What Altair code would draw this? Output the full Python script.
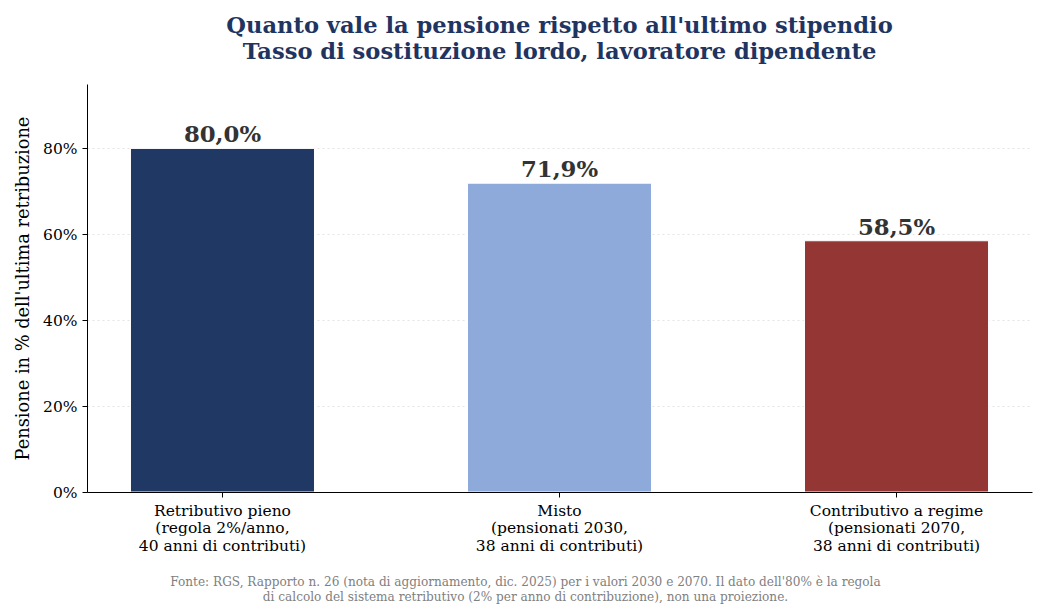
import altair as alt
import pandas as pd

categories = [
    "Retributivo pieno\n(regola 2%/anno,\n40 anni di contributi)",
    "Misto\n(pensionati 2030,\n38 anni di contributi)",
    "Contributivo a regime\n(pensionati 2070,\n38 anni di contributi)",
]
values = [80.0, 71.9, 58.5]
value_labels = ["80,0%", "71,9%", "58,5%"]
colors = ["#203864", "#8eaadb", "#943634"]

df = pd.DataFrame({"cat": categories, "val": values, "lab": value_labels, "col": colors})

FONT = "DejaVu Serif"
footer = [
    "Fonte: RGS, Rapporto n. 26 (nota di aggiornamento, dic. 2025) per i valori 2030 e 2070. Il dato dell'80% è la regola",
    "di calcolo del sistema retributivo (2% per anno di contribuzione), non una proiezione.",
]

x_enc = alt.X(
    "cat:N",
    sort=categories,
    scale=alt.Scale(paddingInner=0.454, paddingOuter=0.129),
    axis=alt.Axis(
        labelExpr="split(datum.label, '\\n')",
        labelAngle=0,
        labelFont=FONT,
        labelFontSize=15.5,
        labelColor="black",
        labelLineHeight=17.5,
        labelPadding=6,
        tickSize=5,
        tickColor="black",
        domainColor="black",
        title=footer,
        titleFont=FONT,
        titleFontSize=12.1,
        titleFontWeight="normal",
        titleColor="#808080",
        titleLineHeight=14.5,
        titleX=438,
        titlePadding=22,
        grid=False,
        zindex=1,
    ),
)

y_enc = alt.Y(
    "val:Q",
    scale=alt.Scale(domain=[0, 95], nice=False),
    axis=alt.Axis(
        values=[0, 20, 40, 60, 80],
        labelExpr="datum.value + '%'",
        labelFont=FONT,
        labelFontSize=15.5,
        labelColor="black",
        labelPadding=5,
        tickSize=5,
        tickColor="black",
        domainColor="black",
        title="Pensione in % dell'ultima retribuzione",
        titleFont=FONT,
        titleFontSize=17.8,
        titleFontWeight="normal",
        titleColor="black",
        titlePadding=10,
        grid=True,
        gridColor="#dddddd",
        gridDash=[2, 3],
        gridWidth=0.8,
    ),
)

bars = alt.Chart(df).mark_bar(stroke="white", strokeWidth=1).encode(
    x=x_enc,
    y=y_enc,
    color=alt.Color("col:N", scale=None, legend=None),
)

texts = alt.Chart(df).mark_text(
    font=FONT, fontSize=22.8, fontWeight="bold", color="#333333", baseline="bottom", dy=-1
).encode(
    x=alt.X("cat:N", sort=categories),
    y="val:Q",
    text="lab:N",
)

chart = (
    alt.layer(bars, texts)
    .properties(
        width=945,
        height=408,
        autosize=alt.AutoSizeParams(type="none"),
        padding={"left": 79, "top": 76, "right": 10, "bottom": 116},
        title=alt.TitleParams(
            text=[
                "Quanto vale la pensione rispetto all'ultimo stipendio",
                "Tasso di sostituzione lordo, lavoratore dipendente",
            ],
            font=FONT,
            fontSize=22.6,
            fontWeight="bold",
            color="#1f3461",
            anchor="middle",
            lineHeight=26,
            offset=20,
        ),
    )
    .configure_view(stroke=None)
    .configure_axis(labelFont=FONT)
)

chart.save("out.html", embed_options={"renderer": "svg", "actions": False})
